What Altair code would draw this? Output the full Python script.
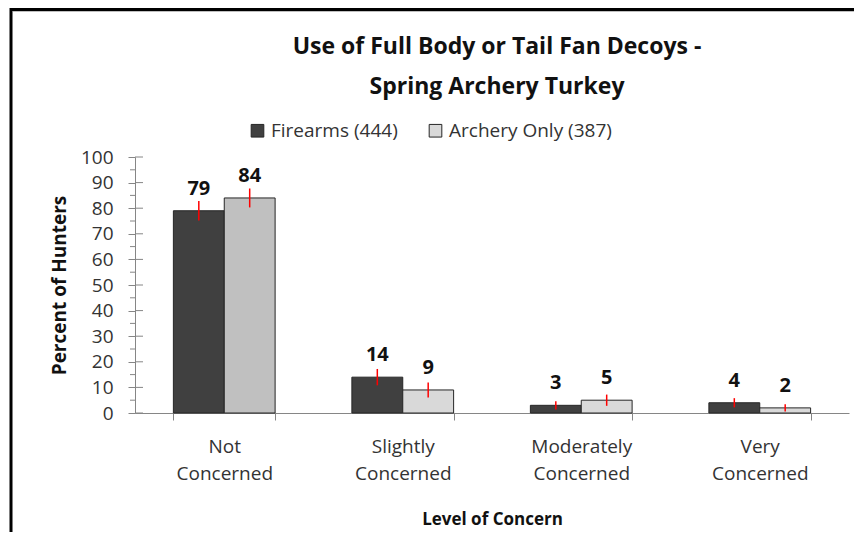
import altair as alt
import pandas as pd

categories = ["Not Concerned", "Slightly Concerned", "Moderately Concerned", "Very Concerned"]
series = ["Firearms (444)", "Archery Only (387)"]
firearms = [79, 14, 3, 4]
archery = [84, 9, 5, 2]
firearms_err = [3.8, 3.2, 1.6, 1.8]
archery_err = [3.7, 2.9, 2.2, 1.4]
y_major = list(range(0, 101, 10))
y_minor = list(range(5, 100, 10))
title_lines = ["Use of Full Body or Tail Fan Decoys -", "Spring Archery Turkey"]

rows = []
for i, c in enumerate(categories):
    rows.append(dict(cat=c, series=series[0], value=firearms[i], err=firearms_err[i]))
    rows.append(dict(cat=c, series=series[1], value=archery[i], err=archery_err[i]))
df = pd.DataFrame(rows)
df["lo"] = df["value"] - df["err"]
df["hi"] = df["value"] + df["err"]

FONT = "Open Sans"
AXIS_GRAY = "#868686"

x_axis = alt.Axis(
    title="Level of Concern", labelExpr="split(datum.label, ' ')", labelAngle=0,
    tickBand="extent", tickSize=7, tickColor=AXIS_GRAY, domainColor=AXIS_GRAY,
    labelFont=FONT, labelFontSize=19, labelColor="#333333", labelPadding=17,
    labelLineHeight=27, titleFont=FONT, titleFontSize=17, titleFontWeight="bold",
    titleColor="#111111", titleY=111, titleBaseline="alphabetic",
)
y_axis = alt.Axis(
    values=y_major, labelOverlap=False,
    tickSize=7, tickColor=AXIS_GRAY, domainColor=AXIS_GRAY, grid=False,
    labelFont=FONT, labelFontSize=19, labelColor="#333333", labelPadding=15,
    title="Percent of Hunters", titleFont=FONT, titleFontSize=19,
    titleFontWeight="bold", titleColor="#111111", titleX=-70, titleY=128,
    titleBaseline="alphabetic", titleAngle=270,
)
x_scale = alt.Scale(paddingInner=0.43, paddingOuter=0.215)
y_scale = alt.Scale(domain=[0, 100], nice=False)

x_enc = alt.X("cat:N", sort=categories, scale=x_scale, axis=x_axis)
xoff = alt.XOffset("series:N", sort=series, scale=alt.Scale(paddingInner=0, paddingOuter=0))

base = alt.Chart(df)

bars = base.mark_bar(stroke="#262626", strokeWidth=1).encode(
    x=x_enc,
    xOffset=xoff,
    y=alt.Y("value:Q", scale=y_scale, axis=y_axis),
    color=alt.condition(
        "datum.cat == 'Not Concerned' && datum.series == 'Archery Only (387)'",
        alt.value("#C0C0C0"),
        alt.Color(
            "series:N", sort=series,
            scale=alt.Scale(domain=series, range=["#404040", "#D9D9D9"]),
            legend=alt.Legend(
                orient="none", legendX=113, legendY=-36, direction="horizontal",
                title=None, symbolType="square", symbolSize=160,
                symbolStrokeColor="#262626", symbolStrokeWidth=1,
                labelFont=FONT, labelFontSize=19, labelColor="#333333",
                labelLimit=400, columnPadding=28, labelOffset=4,
            ),
        ),
    ),
)

errs = base.mark_rule(color="#FF0000", strokeWidth=1.5).encode(
    x=x_enc,
    xOffset=xoff,
    y=alt.Y("lo:Q", scale=y_scale, axis=y_axis),
    y2="hi:Q",
)

labels = base.mark_text(
    font=FONT, fontWeight="bold", fontSize=20, color="#111111",
    dy=-16, baseline="alphabetic",
).encode(
    x=x_enc,
    xOffset=xoff,
    y=alt.Y("value:Q", scale=y_scale, axis=y_axis),
    text=alt.Text("value:Q"),
)

inner_ticks = alt.Chart(pd.DataFrame({"t": y_major})).mark_rule(color=AXIS_GRAY).encode(
    y=alt.Y("t:Q", scale=y_scale, axis=y_axis),
    x=alt.value(0),
    x2=alt.value(8),
)
minor_ticks = alt.Chart(pd.DataFrame({"t": y_minor})).mark_rule(color=AXIS_GRAY).encode(
    y=alt.Y("t:Q", scale=y_scale, axis=y_axis),
    x=alt.value(-5),
    x2=alt.value(0),
)

one = pd.DataFrame({"a": [0]})
border_left = alt.Chart(one).mark_rule(color="#000000", strokeWidth=3).encode(
    x=alt.value(-124), x2=alt.value(-124), y=alt.value(-149), y2=alt.value(420)
)
border_top = alt.Chart(one).mark_rule(color="#000000", strokeWidth=3).encode(
    x=alt.value(-125), x2=alt.value(760), y=alt.value(-147.5), y2=alt.value(-147.5)
)
border_shadow = alt.Chart(one).mark_rule(color="#BFBFBF", strokeWidth=1).encode(
    x=alt.value(-122), x2=alt.value(760), y=alt.value(-145.5), y2=alt.value(-145.5)
)

chart = alt.layer(
    bars, errs, labels, inner_ticks, minor_ticks, border_left, border_top, border_shadow
).properties(
    width=714, height=256,
    title=alt.TitleParams(
        title_lines, font=FONT, fontSize=23, fontWeight="bold", color="#111111",
        lineHeight=40, anchor="middle", dx=5, offset=0, dy=92,
    ),
    autosize=alt.AutoSizeParams(type="none"),
    padding={"left": 127, "top": 149, "right": 5, "bottom": 119},
).configure(background="white").configure_view(stroke=None)

chart.save("out.html", embed_options={"renderer": "svg", "actions": False})
